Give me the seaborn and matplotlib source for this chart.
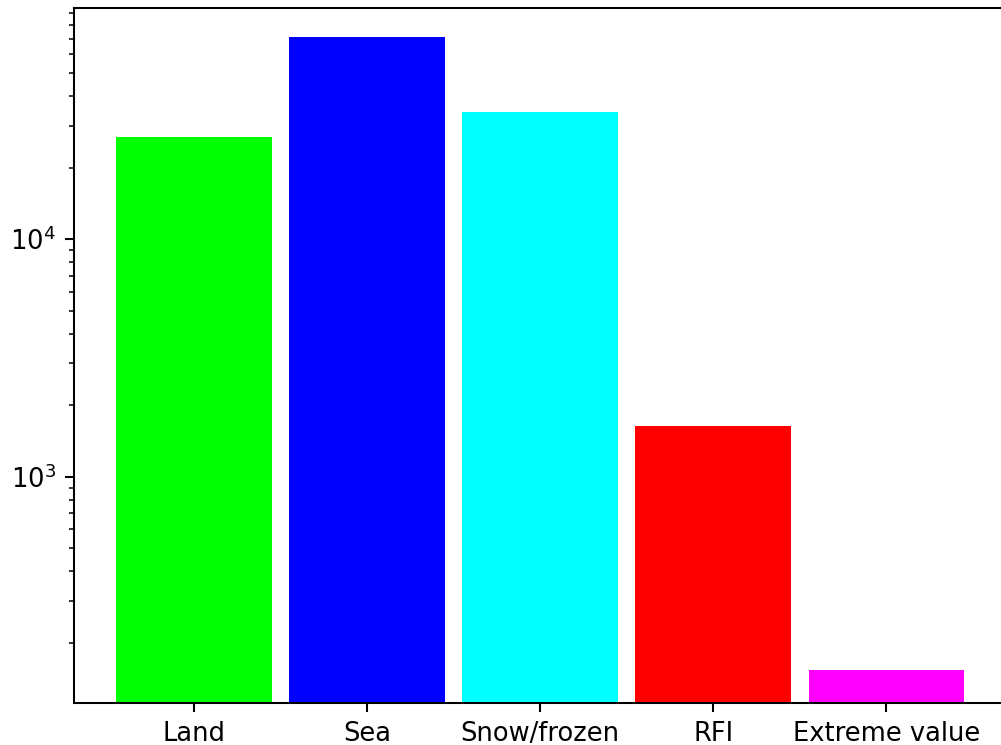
import matplotlib
matplotlib.use("Agg")
import matplotlib.pyplot as plt
import seaborn as sns
import pandas as pd

categories = ["Land", "Sea", "Snow/frozen", "RFI", "Extreme value"]
counts = [26900, 71000, 34400, 1640, 153]
colors = ["#00ff00", "#0000ff", "#00ffff", "#ff0000", "#ff00ff"]

df = pd.DataFrame({"category": categories, "count": counts})

DPI = 185
fig = plt.figure(figsize=(1001 / DPI, 745 / DPI), dpi=DPI)
ax = fig.add_axes([0.0736, 0.0564, 0.9322, 0.9329])

sns.barplot(data=df, x="category", y="count", hue="category",
            palette=colors, order=categories, hue_order=categories,
            width=0.9, saturation=1, linewidth=0, legend=False, ax=ax,
            errorbar=None)

ax.set_yscale("log")
ax.set_ylim(111.4, 94200)
ax.set_xlim(-0.695, 4.695)
ax.set_xlabel("")
ax.set_ylabel("")

fig.savefig("out.png", dpi=DPI)
